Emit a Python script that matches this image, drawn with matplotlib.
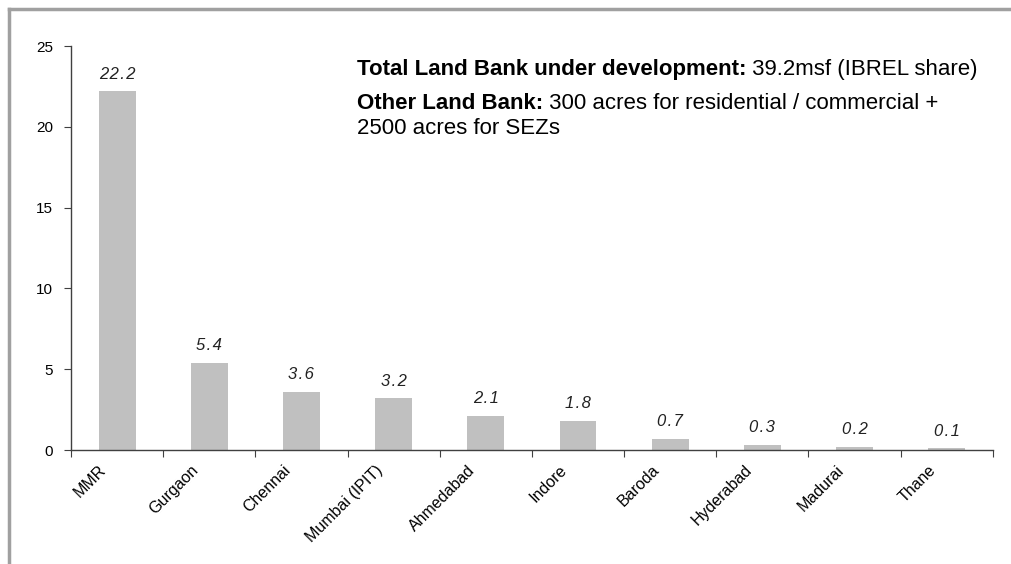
import matplotlib
matplotlib.use('Agg')
import matplotlib.pyplot as plt
from matplotlib.lines import Line2D

plt.rcParams['font.family'] = ['Liberation Sans', 'DejaVu Sans']

# land bank under development by location (msf)
cities = ['MMR', 'Gurgaon', 'Chennai', 'Mumbai (IPIT)', 'Ahmedabad',
          'Indore', 'Baroda', 'Hyderabad', 'Madurai', 'Thane']
area = [22.2, 5.4, 3.6, 3.2, 2.1, 1.8, 0.7, 0.3, 0.2, 0.1]
area_labels = ['22.2', '5.4', '3.6', '3.2', '2.1', '1.8', '0.7', '0.3', '0.2', '0.1']
yticks = [0, 5, 10, 15, 20, 25]

fig = plt.figure(figsize=(10.11, 5.64), dpi=100)
ax = fig.add_axes([0.0702, 0.2021, 0.9118, 0.7163])

pos = [i + 0.5 for i in range(len(cities))]
ax.bar(pos, area, width=0.4, color='#c0c0c0', edgecolor='none', zorder=2)

# italic value labels with a little letter spacing
for x, v, lab in zip(pos, area, area_labels):
    ax.text(x, v + 0.6, '\u200a'.join(lab), ha='center', va='bottom',
            fontsize=12, style='italic', color='#222222')

ax.set_xlim(0, len(cities))
ax.set_ylim(0, 25)
ax.set_yticks(yticks)
ax.set_yticklabels([str(t) for t in yticks], fontsize=11)

# category boundary ticks; labels sit a bit left of the bar centres
ax.set_xticks(range(len(cities) + 1))
ax.set_xticklabels([])
ax.set_xticks([p - 0.2 for p in pos], minor=True)
ax.set_xticklabels(cities, minor=True, rotation=45, ha='right', va='top',
                   rotation_mode='anchor', fontsize=11.5)
ax.tick_params(axis='x', which='minor', length=0, pad=9)
ax.tick_params(axis='x', which='major', direction='out', length=5, color='#404040')
ax.tick_params(axis='y', direction='out', length=5, color='#404040', pad=8)

for s in ['top', 'right']:
    ax.spines[s].set_visible(False)
for s in ['left', 'bottom']:
    ax.spines[s].set_color('#404040')
    ax.spines[s].set_linewidth(1.0)

# notes on the land bank
fs = 16
t1 = fig.text(357 / 1011, 1 - 70 / 564, 'Total Land Bank under development:',
              fontsize=fs, fontweight='bold', va='center', ha='left')
ax.annotate(' 39.2msf (IBREL share)', xy=(1, 0.5), xycoords=t1,
            va='center', ha='left', fontsize=fs)
t2 = fig.text(357 / 1011, 1 - 103 / 564, 'Other Land Bank:',
              fontsize=fs, fontweight='bold', va='center', ha='left')
ax.annotate(' 300 acres for residential / commercial +', xy=(1, 0.5), xycoords=t2,
            va='center', ha='left', fontsize=fs)
fig.text(357 / 1011, 1 - 128 / 564, '2500 acres for SEZs',
         fontsize=fs, va='center', ha='left')

# outer frame on left and top
fx = 8.5 / 1011
fy = 1 - 9 / 564
fig.add_artist(Line2D([fx, fx], [0, fy], transform=fig.transFigure,
                      color='#a0a0a0', lw=2.5))
fig.add_artist(Line2D([fx, 1], [fy, fy], transform=fig.transFigure,
                      color='#a0a0a0', lw=2.5))

fig.savefig('out.png', dpi=100)
